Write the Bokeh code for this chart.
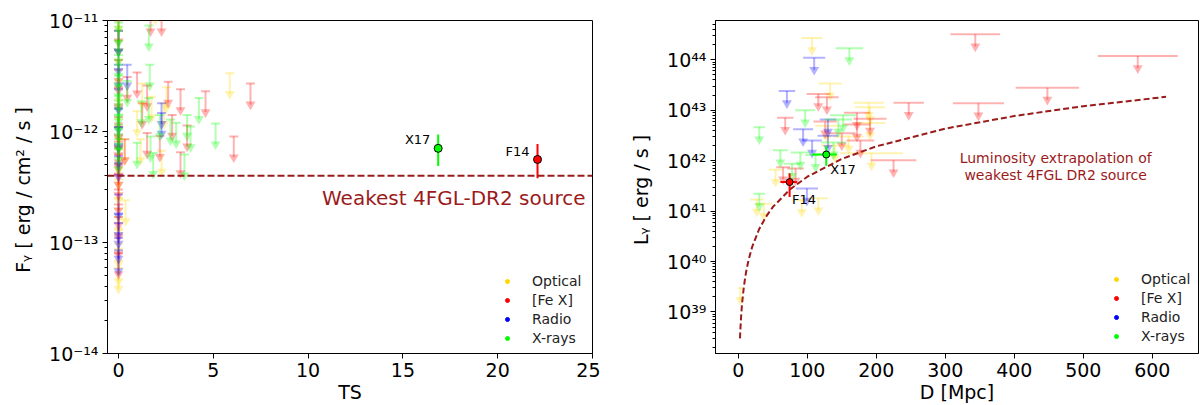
from bokeh.plotting import figure
from bokeh.layouts import row
from bokeh.models import (Range1d, FixedTicker, CustomJSTickFormatter, Span, Label,
                          Legend, LegendItem)
from bokeh.embed import file_html
from bokeh.resources import INLINE

FONT = "DejaVu Sans"
DARKRED = "#9B1B1B"
categories = ["Optical", "[Fe X]", "Radio", "X-rays"]
colors = {"Optical": "#FFD700", "[Fe X]": "#FF0000", "Radio": "#0000FF", "X-rays": "#00FF00"}

# ---------------- left panel data: TS vs flux upper limits ----------------
ts_optical = [0]*13 + [1.95, 5.87, 1.25, 2.53, 1.74, 0.98, 2.4, 1.16, 2.27, 0.33, 0.37]
f_optical = [1.3e-11, 6.6e-12, 2.9e-12, 1.3e-12, 6.9e-13, 5.1e-13, 3.7e-13, 2.5e-13, 2.0e-13,
             1.3e-13, 9.8e-14, 6.9e-14, 5.9e-14,
             1.57e-11, 3.35e-12, 2.7e-12, 2.5e-12, 2.06e-12, 1.52e-12, 1.8e-12, 8.5e-13, 6.7e-13,
             8.5e-13, 2.4e-13]
ts_fex = [0]*19 + [1.69, 2.27, 0.46, 0.98, 1.51, 2.62, 3.27, 4.59, 6.96, 6.08, 2.83, 3.62, 1.51,
                   2.18, 3.27, 0.33, 1.25]
f_fex = [1.0e-11, 8.1e-12, 4.4e-12, 3.6e-12, 2.5e-12, 1.75e-12, 1.35e-12, 1.1e-12, 9.4e-13,
         8.1e-13, 7.2e-13, 6.2e-13, 5.1e-13, 4.1e-13, 3.0e-13, 2.2e-13, 1.7e-13, 1.2e-13, 8.0e-14,
         1.23e-11, 1.23e-11, 3.1e-12, 3.4e-12, 2.6e-12, 2.8e-12, 2.4e-12, 2.3e-12, 2.7e-12, 9.0e-13,
         1.41e-12, 1.13e-12, 9.7e-13, 9.1e-13, 6.5e-13, 8.5e-13, 1.8e-12]
ts_radio = [0]*13 + [0.46, 2.27, 2.27]
f_radio = [8.1e-12, 5.4e-12, 4.0e-12, 2.4e-12, 1.6e-12, 1.1e-12, 7.7e-13, 6.0e-13, 2.7e-13,
           1.8e-13, 1.5e-13, 1.1e-13, 8.5e-14,
           4.0e-12, 1.8e-12, 1.47e-12]
ts_xray = [0]*16 + [1.6, 0.46, 1.65, 1.6, 1.21, 4.24, 3.62, 5.12, 2.18, 2.74, 3.04, 3.8, 0.98,
                    1.69, 1.83, 3.48]
f_xray = [1.3e-11, 9.6e-12, 8.1e-12, 6.6e-12, 4.9e-12, 4.0e-12, 3.2e-12, 2.6e-12, 2.1e-12,
          1.9e-12, 1.6e-12, 1.4e-12, 1.15e-12, 1.05e-12, 8.5e-13, 7.0e-13,
          9.0e-12, 2.85e-12, 4.0e-12, 2.0e-12, 1.87e-12, 2.0e-12, 1.41e-12, 1.18e-12, 1.41e-12,
          1.28e-12, 1.2e-12, 1.11e-12, 7.9e-13, 9.0e-13, 6.4e-13, 6.2e-13]

# detections
det_names = ["X17", "F14"]
det_colors = ["#00FF00", "#FF0000"]
det_ts = [16.86, 22.1]
det_f = [7.05e-13, 5.6e-13]
det_f_lo = [4.9e-13, 3.8e-13]
det_f_hi = [9.4e-13, 7.7e-13]
weakest_flux = 4.0e-13

# ---------------- right panel data: distance vs luminosity ----------------
d_optical = [107, 133, 189, 191, 128.5, 191, 193, 54, 116, 27, 92, 3, 160, 140, 37]
derr_optical = [15, 17, 22, 22, 17, 22, 46, 10, 14, 10, 12, 3, 22, 20, 12]
l_optical = [2.7e44, 3.4e43, 1.4e43, 1.15e43, 4.9e42, 5.6e42, 1.4e42, 6.6e41, 1.8e41, 1.7e41,
             1.66e41, 3.0e39, 3.0e42, 2.0e42, 1.4e41]
d_fex = [116, 128.5, 247, 68, 172, 191, 126, 172, 225, 83, 343.5, 579, 448, 348, 177, 150, 65]
derr_fex = [17, 17, 22, 12, 19, 24, 17, 19, 33, 12, 36, 58, 46, 37, 20, 20, 10]
l_fex = [2.1e43, 1.8e43, 1.4e43, 7.1e42, 8.9e42, 6.8e42, 6.0e42, 5.2e42, 1.02e42, 7.0e41,
         3.2e44, 1.18e44, 2.8e43, 1.37e43, 2.5e42, 3.5e42, 7.4e41]
d_radio = [110, 70.5, 130, 94, 107, 99.5, 130]
derr_radio = [16, 12, 12, 14.5, 14, 16, 15]
l_radio = [1.1e44, 2.4e43, 6.5e42, 4.2e42, 2.5e42, 2.8e41, 3.1e42]
d_xray = [161, 97, 152, 30.5, 138, 61, 90, 78, 30.5, 112, 145]
derr_xray = [20, 14.5, 19, 8.5, 18, 11, 14, 12, 8.5, 15, 20]
l_xray = [1.7e44, 1.0e43, 7.9e42, 4.6e42, 2.3e42, 1.6e42, 1.45e42, 8.7e41, 2.2e41, 1.3e42, 6.5e42]

det_d = [127.5, 74.4]
det_d_lo = [107, 61]
det_d_hi = [143, 85]
det_l = [1.32e42, 3.76e41]
det_l_lo = [7.9e41, 1.9e41]
det_l_hi = [1.95e42, 5.6e41]

curve_d = [2.5, 3, 4, 5, 6, 8, 10, 12, 15, 20, 30, 40, 50, 75, 100, 150, 200, 300, 400, 500, 620]
curve_l = [2.99e38, 4.31e38, 7.66e38, 1.20e39, 1.72e39, 3.07e39, 4.79e39, 6.90e39, 1.08e40,
           1.92e40, 4.31e40, 7.66e40, 1.20e41, 2.69e41, 4.79e41, 1.08e42, 1.92e42, 4.31e42,
           7.66e42, 1.20e43, 1.84e43]

left_data = {"Optical": (ts_optical, f_optical), "[Fe X]": (ts_fex, f_fex),
             "Radio": (ts_radio, f_radio), "X-rays": (ts_xray, f_xray)}
right_data = {"Optical": (d_optical, derr_optical, l_optical), "[Fe X]": (d_fex, derr_fex, l_fex),
              "Radio": (d_radio, derr_radio, l_radio), "X-rays": (d_xray, derr_xray, l_xray)}

SUP_JS = """
const sup = {"-":"\u207B","0":"\u2070","1":"\u00B9","2":"\u00B2","3":"\u00B3","4":"\u2074",
             "5":"\u2075","6":"\u2076","7":"\u2077","8":"\u2078","9":"\u2079"};
const e = Math.round(Math.log10(tick));
return "10" + String(e).split("").map(c => sup[c]).join("");
"""

def style(p):
    p.outline_line_color = "black"
    p.outline_line_width = 1
    p.xgrid.visible = False
    p.ygrid.visible = False
    for ax in (p.xaxis[0], p.yaxis[0]):
        ax.axis_line_color = "black"
        ax.major_tick_line_color = "black"
        ax.minor_tick_line_color = "black"
        ax.major_tick_in = 0
        ax.minor_tick_in = 0
        ax.major_tick_out = 5
        ax.minor_tick_out = 3
        ax.major_label_text_font = FONT
        ax.major_label_text_font_size = "19px"
        ax.major_label_text_color = "black"
        ax.axis_label_text_font = FONT
        ax.axis_label_text_font_size = "19px"
        ax.axis_label_text_font_style = "normal"
        ax.axis_label_text_color = "black"
    p.xaxis[0].minor_tick_line_color = None
    p.xaxis[0].major_label_standoff = 4
    p.xaxis[0].axis_label_standoff = 1
    p.yaxis[0].major_label_standoff = 4
    p.yaxis[0].axis_label_standoff = 12
    p.yaxis[0].formatter = CustomJSTickFormatter(code=SUP_JS)


def add_legend(p, loc, far_x, far_y):
    items = []
    for name in categories:
        # marker placed outside the visible ranges: only its legend glyph shows
        r = p.scatter(x=[far_x], y=[far_y], marker="circle", size=4, fill_color=colors[name],
                      line_color=colors[name])
        items.append(LegendItem(label=name, renderers=[r]))
    leg = Legend(items=items, location=loc, border_line_alpha=0, background_fill_alpha=0,
                 padding=0, margin=0, spacing=3, glyph_height=10, glyph_width=10,
                 label_height=16, label_standoff=20, label_text_font=FONT,
                 label_text_font_size="14px", label_text_color="#222222")
    p.add_layout(leg)

# ---------------- left figure ----------------
p1 = figure(width=600, height=405, y_axis_type="log", output_backend="svg", toolbar_location=None,
            x_range=Range1d(-0.58, 25.0), y_range=Range1d(1e-14, 1e-11),
            min_border_left=107, min_border_right=8, min_border_top=20, min_border_bottom=49)
style(p1)
p1.xaxis[0].ticker = FixedTicker(ticks=[0, 5, 10, 15, 20, 25])
p1.yaxis[0].ticker = FixedTicker(ticks=[1e-14, 1e-13, 1e-12, 1e-11],
                                 minor_ticks=[k * 10.0**e for e in (-14, -13, -12) for k in range(2, 10)])
p1.xaxis[0].axis_label = "TS"
p1.yaxis[0].axis_label = "F\u1D67  [ erg / cm\u00B2 / s ]"

for name in categories:
    ts, f = left_data[name]
    c = colors[name]
    tip = [v * 0.65 for v in f]
    p1.segment(x0=ts, y0=f, x1=ts, y1=tip, line_color=c, line_alpha=0.3, line_width=2)
    p1.scatter(ts, f, marker="dash", size=9, line_color=c, line_alpha=0.3, line_width=2)
    p1.scatter(ts, tip, marker="inverted_triangle", size=10, fill_color=c, fill_alpha=0.3,
               line_alpha=0)

p1.add_layout(Span(location=weakest_flux, dimension="width", line_color=DARKRED,
                   line_dash="7 3", line_width=2))
p1.segment(x0=det_ts, y0=det_f_lo, x1=det_ts, y1=det_f_hi, line_color=det_colors, line_width=2)
p1.scatter(det_ts, det_f, marker="circle", size=8, fill_color=det_colors, line_color="black",
           line_width=1)
p1.add_layout(Label(x=16.45, y=7.2e-13, text="X17", text_align="right", text_font=FONT,
                    text_font_size="13px", text_color="black"))
p1.add_layout(Label(x=21.68, y=5.6e-13, text="F14", text_align="right", text_font=FONT,
                    text_font_size="13px", text_color="black"))
p1.add_layout(Label(x=24.63, y=1.97e-13, text="Weakest 4FGL-DR2 source", text_align="right",
                    text_font=FONT, text_font_size="20px", text_color=DARKRED))
add_legend(p1, (395, 7), -100, 1e-20)

# ---------------- right figure ----------------
p2 = figure(width=600, height=405, y_axis_type="log", output_backend="svg", toolbar_location=None,
            x_range=Range1d(-33, 667), y_range=Range1d(1.5e38, 6.0e44),
            min_border_left=115, min_border_right=2, min_border_top=18, min_border_bottom=49)
style(p2)
p2.xaxis[0].ticker = FixedTicker(ticks=[0, 100, 200, 300, 400, 500, 600])
p2.yaxis[0].ticker = FixedTicker(ticks=[1e39, 1e40, 1e41, 1e42, 1e43, 1e44],
                                 minor_ticks=[k * 10.0**e for e in range(38, 45) for k in range(2, 10)])
p2.xaxis[0].axis_label = "D [Mpc]"
p2.yaxis[0].axis_label = "L\u1D67  [ erg / s ]"

for name in categories:
    d, de, L = right_data[name]
    c = colors[name]
    x0 = [a - b for a, b in zip(d, de)]
    x1 = [a + b for a, b in zip(d, de)]
    tip = [v * 0.575 for v in L]
    p2.segment(x0=x0, y0=L, x1=x1, y1=L, line_color=c, line_alpha=0.3, line_width=2)
    p2.segment(x0=d, y0=L, x1=d, y1=tip, line_color=c, line_alpha=0.3, line_width=2)
    p2.scatter(d, tip, marker="inverted_triangle", size=10, fill_color=c, fill_alpha=0.3,
               line_alpha=0)

p2.line(curve_d, curve_l, line_color=DARKRED, line_dash="6 3", line_width=2)
p2.segment(x0=det_d_lo, y0=det_l, x1=det_d_hi, y1=det_l, line_color=det_colors, line_width=2)
p2.segment(x0=det_d, y0=det_l_lo, x1=det_d, y1=det_l_hi, line_color=det_colors, line_width=2)
p2.scatter(det_d, det_l, marker="circle", size=7, fill_color=det_colors, line_color="black",
           line_width=1)
p2.add_layout(Label(x=133.3, y=4.7e41, text="X17", text_align="left", text_font=FONT,
                    text_font_size="13px", text_color="black"))
p2.add_layout(Label(x=77.8, y=1.2e41, text="F14", text_align="left", text_font=FONT,
                    text_font_size="13px", text_color="black"))
p2.add_layout(Label(x=460, y=1.15e42, text="Luminosity extrapolation of", text_align="center",
                    text_baseline="middle", text_font=FONT, text_font_size="14px",
                    text_color=DARKRED))
p2.add_layout(Label(x=460, y=5.1e41, text="weakest 4FGL DR2 source", text_align="center",
                    text_baseline="middle", text_font=FONT, text_font_size="14px",
                    text_color=DARKRED))
add_legend(p2, (396, 9), -1000, 1e30)

layout = row(p1, p2)
open("out.html", "w").write(file_html(layout, INLINE))
